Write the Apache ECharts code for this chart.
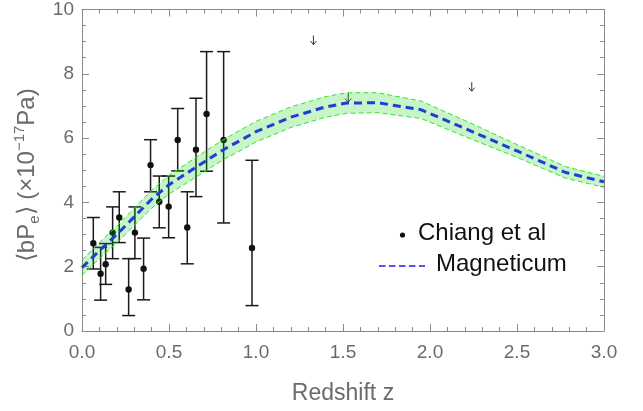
<!DOCTYPE html>
<html>
<head>
<meta charset="utf-8">
<script src="https://cdn.jsdelivr.net/npm/echarts@6/dist/echarts.min.js"></script>
<style>
html,body{margin:0;padding:0;background:#fff;}
#chart{width:643px;height:411px;}
</style>
</head>
<body>
<div id="chart"></div>
<script>
// Chiang et al data points (redshift, value, lower, upper)
var chiangZ  = [0.065, 0.107, 0.136, 0.176, 0.214, 0.268, 0.304, 0.354, 0.394, 0.444, 0.498, 0.55, 0.605, 0.655, 0.716, 0.814, 0.977];
var chiangY  = [2.73, 1.78, 2.08, 3.06, 3.53, 1.29, 3.06, 1.94, 5.16, 4.02, 3.87, 5.94, 3.22, 5.64, 6.75, 5.94, 2.58];
var chiangLo = [1.93, 0.96, 1.45, 2.25, 2.75, 0.48, 2.25, 0.97, 4.33, 3.21, 2.90, 4.98, 2.09, 4.18, 4.97, 3.36, 0.79];
var chiangHi = [3.53, 2.60, 2.72, 3.86, 4.33, 2.25, 3.86, 2.89, 5.95, 4.82, 4.82, 6.92, 4.33, 7.24, 8.69, 8.69, 5.31];
// Upper limits (arrows)
var limitZ = [1.33, 1.53, 2.24];
var limitY = [9.19, 7.40, 7.74];
// Magneticum prediction and band
var magZ  = [0, 0.1, 0.2, 0.3, 0.4, 0.5, 0.6, 0.7, 0.8, 0.9, 1.0, 1.2, 1.4, 1.52, 1.7, 1.95, 2.2, 2.5, 2.78, 3.0];
var magY  = [1.97, 2.5, 3.0, 3.55, 4.1, 4.55, 4.9, 5.25, 5.6, 5.9, 6.2, 6.65, 6.97, 7.09, 7.1, 6.88, 6.3, 5.6, 4.93, 4.64];
var magHi = [2.21, 2.75, 3.26, 3.82, 4.38, 4.84, 5.2, 5.56, 5.91, 6.22, 6.52, 6.97, 7.29, 7.41, 7.41, 7.15, 6.55, 5.8, 5.11, 4.81];
var magLo = [1.73, 2.25, 2.74, 3.28, 3.82, 4.26, 4.6, 4.94, 5.29, 5.58, 5.88, 6.33, 6.65, 6.77, 6.79, 6.61, 6.05, 5.4, 4.75, 4.47];
// Axis ticks
var xTicks = [0, 0.5, 1.0, 1.5, 2.0, 2.5, 3.0];
var yTicks = [0, 2, 4, 6, 8, 10];

var FONT = 'Liberation Sans, Arial, Helvetica, sans-serif';
var GRAY = '#6b6b6b';
var AXC = '#8a8a8a';

var chart = echarts.init(document.getElementById('chart'), null, {renderer: 'canvas'});

var errData = chiangZ.map(function (z, i) { return [z, chiangY[i], chiangLo[i], chiangHi[i]]; });
var limData = limitZ.map(function (z, i) { return [z, limitY[i]]; });
var centerData = magZ.map(function (z, i) { return [z, magY[i]]; });
var hiData = magZ.map(function (z, i) { return [z, magHi[i]]; });
var loData = magZ.map(function (z, i) { return [z, magLo[i]]; });

function baseX(pos, show) {
  return {
    type: 'value', position: pos, min: xTicks[0], max: xTicks[xTicks.length - 1], interval: 0.5,
    axisLine: {show: true, onZero: false, lineStyle: {color: AXC, width: 1}},
    axisTick: {show: true, inside: true, length: 7, lineStyle: {color: AXC}},
    minorTick: {show: true, splitNumber: 5, length: 4, lineStyle: {color: AXC}},
    splitLine: {show: false},
    axisLabel: {show: show, margin: 12, color: GRAY, fontSize: 19, fontFamily: FONT,
      formatter: function (v) { return v.toFixed(1); }}
  };
}
function baseY(pos, show) {
  return {
    type: 'value', position: pos, min: yTicks[0], max: yTicks[yTicks.length - 1], interval: 2,
    axisLine: {show: true, onZero: false, lineStyle: {color: AXC, width: 1}},
    axisTick: {show: true, inside: true, length: 7, lineStyle: {color: AXC}},
    minorTick: {show: true, splitNumber: 4, length: 4, lineStyle: {color: AXC}},
    splitLine: {show: false},
    axisLabel: {show: show, margin: 8, color: GRAY, fontSize: 19, fontFamily: FONT}
  };
}

var xb = baseX('bottom', true);
xb.name = 'Redshift z';
xb.nameLocation = 'middle';
xb.nameGap = 51;
xb.nameTextStyle = {color: GRAY, fontSize: 23, fontFamily: FONT};
var xt = baseX('top', false);

var yl = baseY('left', true);
yl.name = '{n|⟨bP}{sub|e}{n|⟩ (×10}{sup|−17}{n|Pa)}';
yl.nameLocation = 'middle';
yl.nameRotate = 90;
yl.nameGap = 40;
yl.nameTextStyle = {
  padding: [0, 10, 0, 0],
  rich: {
    n: {color: GRAY, fontSize: 24, fontFamily: FONT, lineHeight: 30},
    sub: {color: GRAY, fontSize: 15, fontFamily: FONT, lineHeight: 15, verticalAlign: 'bottom'},
    sup: {color: GRAY, fontSize: 15, fontFamily: FONT, lineHeight: 15, verticalAlign: 'top'}
  }
};
var yr = baseY('right', false);

var option = {
  backgroundColor: '#ffffff',
  animation: false,
  grid: {left: 82, right: 39, top: 9, bottom: 80, containLabel: false},
  xAxis: [xb, xt],
  yAxis: [yl, yr],
  series: [
    {
      type: 'custom', name: 'Chiang et al', xAxisIndex: 0, yAxisIndex: 0,
      data: errData, encode: {x: 0, y: 1},
      renderItem: function (params, api) {
        var x = api.value(0);
        var c = api.coord([x, api.value(1)]);
        var lo = api.coord([x, api.value(2)]);
        var hi = api.coord([x, api.value(3)]);
        var st = {stroke: '#1a1a1a', lineWidth: 1.5};
        return {type: 'group', children: [
          {type: 'line', shape: {x1: c[0], y1: lo[1], x2: c[0], y2: hi[1]}, style: st},
          {type: 'line', shape: {x1: c[0] - 6.5, y1: lo[1], x2: c[0] + 6.5, y2: lo[1]}, style: st},
          {type: 'line', shape: {x1: c[0] - 6.5, y1: hi[1], x2: c[0] + 6.5, y2: hi[1]}, style: st},
          {type: 'circle', shape: {cx: c[0], cy: c[1], r: 3.2}, style: {fill: '#111'}}
        ]};
      }
    },
    {
      type: 'custom', name: 'limits', xAxisIndex: 0, yAxisIndex: 0,
      data: limData, encode: {x: 0, y: 1},
      renderItem: function (params, api) {
        var p = api.coord([api.value(0), api.value(1)]);
        var st = {stroke: '#333', lineWidth: 1, fill: null};
        return {type: 'group', children: [
          {type: 'line', shape: {x1: p[0], y1: p[1], x2: p[0], y2: p[1] + 9}, style: st},
          {type: 'polyline', shape: {points: [[p[0] - 3, p[1] + 5.5], [p[0], p[1] + 9], [p[0] + 3, p[1] + 5.5]]}, style: st}
        ]};
      }
    },
    {
      type: 'custom', name: 'band', xAxisIndex: 0, yAxisIndex: 0,
      data: [[magZ[0], magY[0]]], encode: {x: 0, y: 1},
      renderItem: function (params, api) {
        var pts = [];
        for (var i = 0; i < magZ.length; i++) pts.push(api.coord([magZ[i], magHi[i]]));
        for (var j = magZ.length - 1; j >= 0; j--) pts.push(api.coord([magZ[j], magLo[j]]));
        return {type: 'polygon', shape: {points: pts}, style: {fill: 'rgba(0,210,0,0.22)'}};
      }
    },
    {
      type: 'line', name: 'bandHi', data: hiData, symbol: 'none', silent: true,
      lineStyle: {color: '#2be82b', width: 1, type: [5, 3]}
    },
    {
      type: 'line', name: 'bandLo', data: loData, symbol: 'none', silent: true,
      lineStyle: {color: '#2be82b', width: 1, type: [5, 3]}
    },
    {
      type: 'line', name: 'Magneticum', data: centerData, symbol: 'none', silent: true,
      lineStyle: {color: '#1d3fd6', width: 3, type: [8, 5]}
    }
  ],
  graphic: [
    {type: 'circle', shape: {cx: 402.5, cy: 235, r: 2.6}, style: {fill: '#111'}},
    {type: 'text', x: 418, y: 233, style: {text: 'Chiang et al', fill: '#111', fontSize: 24, fontFamily: FONT, verticalAlign: 'middle'}},
    {type: 'line', shape: {x1: 379, y1: 266, x2: 425, y2: 266}, style: {stroke: '#1a1aff', lineWidth: 1.6, lineDash: [6.5, 3.5]}},
    {type: 'text', x: 436, y: 264, style: {text: 'Magneticum', fill: '#111', fontSize: 24, fontFamily: FONT, verticalAlign: 'middle'}}
  ]
};
chart.setOption(option);
</script>
</body>
</html>
